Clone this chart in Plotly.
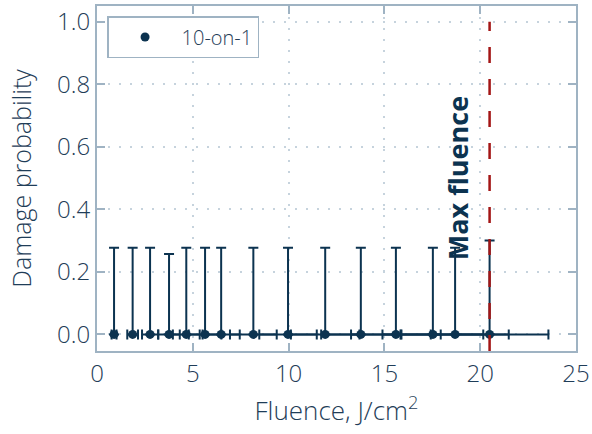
import plotly.graph_objects as go

fluence = [0.89, 1.86, 2.77, 3.76, 4.66, 5.64, 6.48, 8.16, 9.97, 11.91, 13.77, 15.60, 17.53, 18.69, 20.49]
fluence_err = [0.13, 0.28, 0.42, 0.56, 0.70, 0.85, 0.97, 1.22, 1.50, 1.79, 2.07, 2.34, 2.63, 2.80, 3.07]
damage_prob = [0, 0, 0, 0, 0, 0, 0, 0, 0, 0, 0, 0, 0, 0, 0]
prob_err_up = [0.277, 0.277, 0.277, 0.257, 0.277, 0.277, 0.277, 0.277, 0.277, 0.277, 0.277, 0.277, 0.277, 0.277, 0.30]
prob_err_down = [0, 0, 0, 0, 0, 0, 0, 0, 0, 0, 0, 0, 0, 0, 0]
max_fluence = 20.49
series_name = "10-on-1"
x_ticks = [0, 5, 10, 15, 20, 25]
y_ticks = [0, 0.2, 0.4, 0.6, 0.8, 1.0]
y_ticktext = ["0.0", "0.2", "0.4", "0.6", "0.8", "1.0"]
y_range = [-0.053, 1.05]

NAVY = "#0c3350"
FRAME = "#9fb3c3"
GRID = "#c6d3dd"
TXT = "#1f3d58"
FONT = "Open Sans"

fig = go.Figure()
fig.add_trace(go.Scatter(
    x=fluence, y=damage_prob, mode="markers", name=series_name,
    marker=dict(color=NAVY, size=9),
    error_x=dict(type="data", array=fluence_err, color=NAVY, thickness=2, width=5),
    error_y=dict(type="data", symmetric=False, array=prob_err_up, arrayminus=prob_err_down,
                 color=NAVY, thickness=2, width=5),
))

fig.add_shape(type="line", x0=max_fluence, x1=max_fluence, y0=y_range[0], y1=1.0, yref="y",
              line=dict(color="#a31515", width=2.5, dash="16px,16px"))
fig.add_annotation(x=18.8, y=0.5, text="<b>Max fluence</b>", textangle=-90, showarrow=False,
                   font=dict(family=FONT, size=27, color=NAVY))

axis_common = dict(showline=True, linecolor=FRAME, linewidth=2, mirror="ticks",
                   ticks="inside", ticklen=8, tickcolor=FRAME, tickwidth=1.5,
                   showgrid=True, gridcolor=GRID, griddash="2px,9px", gridwidth=1.8,
                   zeroline=False, automargin=False,
                   tickfont=dict(family=FONT, size=24, color=TXT, weight=300))

fig.update_xaxes(range=[0, 25], tickvals=x_ticks,
                 title=dict(text="Fluence, J/cm<sup>2</sup>",
                            font=dict(family=FONT, size=26, color=TXT, weight=300), standoff=14),
                 **axis_common)
fig.update_yaxes(range=y_range, tickvals=y_ticks, ticktext=y_ticktext,
                 title=dict(text="Damage probability",
                            font=dict(family=FONT, size=25, color=TXT, weight=300), standoff=18),
                 **axis_common)

fig.update_layout(
    width=592, height=434, margin=dict(l=97, r=16, t=6, b=83),
    plot_bgcolor="white", paper_bgcolor="white",
    showlegend=True,
    legend=dict(x=0.021, y=0.971, xanchor="left", yanchor="top", bgcolor="white",
                bordercolor=FRAME, borderwidth=1.5, itemwidth=63,
                font=dict(family=FONT, size=20, color=TXT, weight=300)),
)

fig.write_html("out.html", config={"displayModeBar": False},
               post_script="document.body.style.margin='0';")
